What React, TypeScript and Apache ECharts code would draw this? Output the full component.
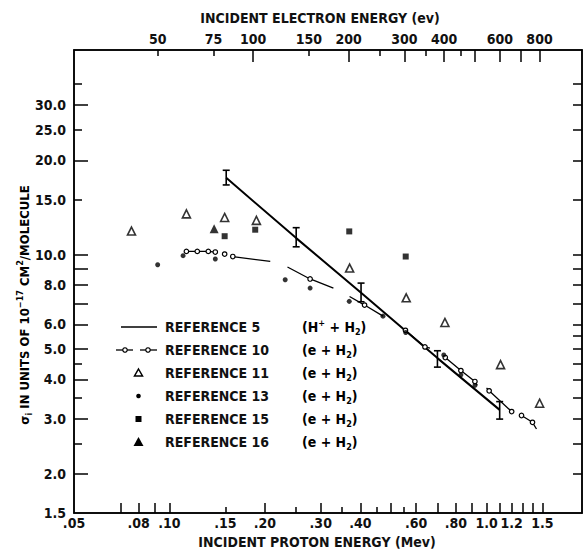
import React, { useEffect, useRef } from "react";
import * as echarts from "echarts";

// proton energy (MeV) -> electron energy of same velocity (eV)
const K = 544.6;

const xTickLong = [0.07, 0.08, 0.09, 0.1, 0.2, 0.3, 0.4, 0.5, 0.6, 0.7, 0.8, 0.9, 1.0, 1.1, 1.2, 1.3, 1.4, 1.5];
const xTickShort = [0.15, 0.25, 0.35, 0.45, 0.55];
const xLabels = [0.05, 0.08, 0.1, 0.15, 0.2, 0.3, 0.4, 0.6, 0.8, 1.0, 1.2, 1.5];
const xLabelTexts = [".05", ".08", ".10", ".15", ".20", ".30", ".40", ".60", ".80", "1.0", "1.2", "1.5"];

const topTickLong = [100, 200, 300, 400, 500, 600, 700, 800];
const topTickShort = [50, 75, 150, 250, 350, 450];
const topLabels = [50, 75, 100, 150, 200, 300, 400, 600, 800];
const topLabelTexts = ["50", "75", "100", "150", "200", "300", "400", "600", "800"];

const yTickLong = [2, 3, 4, 5, 6, 7, 8, 9, 10, 20, 30];
const yTickShort = [2.5, 3.5, 4.5, 15, 25, 35];
const yTickRight = [2, 2.5, 3, 3.5, 4, 4.5, 5, 5.5, 6, 7, 8, 9, 10, 15, 20, 25, 30, 35];
const yLabels = [1.5, 2, 3, 4, 5, 6, 8, 10, 15, 20, 25, 30];
const yLabelTexts = ["1.5", "2.0", "3.0", "4.0", "5.0", "6.0", "8.0", "10.0", "15.0", "20.0", "25.0", "30.0"];

// Reference 5 (H+ + H2): line and error bars [E, low, high]
const ref5 = [[0.151, 17.6], [0.251, 11.3], [0.402, 7.57], [0.70, 4.68], [1.10, 3.2]];
const ref5Err = [[0.151, 16.7, 18.6], [0.251, 10.6, 12.2], [0.402, 7.08, 8.12], [0.70, 4.38, 4.94], [1.10, 2.99, 3.4]];

// Reference 10: segments of [E, sigma, circle?]
const ref10Segments = [
  [[0.1131, 10.25, 1], [0.1224, 10.25, 1], [0.1326, 10.25, 1], [0.1395, 10.2, 1]],
  [[0.1493, 10.05, 1]],
  [[0.1584, 9.87, 1], [0.2079, 9.52, 0]],
  [[0.2356, 9.14, 0], [0.2777, 8.37, 1], [0.3289, 7.83, 0]],
  [[0.3698, 7.36, 0], [0.4124, 6.91, 1], [0.4715, 6.37, 0]],
  [[0.555, 5.74, 1], [0.6394, 5.08, 1], [0.663, 5.04, 0]],
  [[0.741, 4.7, 1], [0.83, 4.27, 1], [0.919, 3.94, 1], [0.935, 3.83, 0]],
  [[1.0, 3.76, 0], [1.019, 3.68, 1], [1.2, 3.16, 1]],
  [[1.289, 3.07, 1], [1.396, 2.92, 1], [1.437, 2.78, 0]],
];

const ref11 = [[0.0759, 11.9], [0.1131, 13.5], [0.1493, 13.15], [0.188, 12.87], [0.37, 9.07], [0.558, 7.29], [0.739, 6.08], [1.107, 4.46], [1.47, 3.36]];
const ref13 = [[0.0918, 9.29], [0.1104, 9.93], [0.1395, 9.69], [0.2317, 8.32], [0.2777, 7.83], [0.369, 7.1], [0.4715, 6.37], [0.556, 5.65], [0.733, 4.79], [0.83, 4.14], [0.919, 3.83]];
const ref15 = [[0.1493, 11.46], [0.1864, 12.02], [0.369, 11.87], [0.556, 9.87]];
const ref16 = [[0.1383, 12.1]];

const legendNames = ["REFERENCE 5", "REFERENCE 10", "REFERENCE 11", "REFERENCE 13", "REFERENCE 15", "REFERENCE 16"];
const legendReactions = ["H+", "e", "e", "e", "e", "e"];

const L = (v: number) => Math.log10(v);
const FONT = "'DejaVu Sans Condensed', 'DejaVu Sans', sans-serif";
const INK = "#111";

const fmt = (vals: number[], texts: string[]) => (v: number) => {
  let best = 0;
  let bd = Infinity;
  vals.forEach((t, i) => {
    const d = Math.abs(L(t) - v);
    if (d < bd) { bd = d; best = i; }
  });
  return texts[best];
};

export default function App() {
  const ref = useRef<HTMLDivElement>(null);
  useEffect(() => {
    document.body.style.margin = "0";
    document.documentElement.style.overflow = "hidden";
    document.body.style.overflow = "hidden";
    if (!ref.current) return;
    const chart = echarts.init(ref.current, undefined, { renderer: "svg" });

    const lineStyle = { color: "#000", width: 1.5 };
    const labelBase = { fontFamily: FONT, fontSize: 14, fontWeight: "bold" as const, color: INK };

    const xMin = L(0.05), xMax = L(2.0);
    const tMin = L(0.05 * K), tMax = L(2.0 * K);
    const yMin = L(1.5), yMax = L(45);

    const xAxis: any[] = [
      {
        type: "value", position: "bottom", min: xMin, max: xMax,
        axisLine: { show: true, onZero: false, lineStyle },
        axisTick: { show: true, inside: true, length: 10, customValues: xTickLong.map(L), lineStyle },
        axisLabel: { show: true, customValues: xLabels.map(L), formatter: fmt(xLabels, xLabelTexts), margin: 3, ...labelBase },
        splitLine: { show: false },
      },
      {
        type: "value", position: "bottom", min: xMin, max: xMax,
        axisLine: { show: false, onZero: false },
        axisTick: { show: true, inside: true, length: 6, customValues: xTickShort.map(L), lineStyle },
        axisLabel: { show: false },
        splitLine: { show: false },
      },
      {
        type: "value", position: "top", min: tMin, max: tMax,
        axisLine: { show: true, onZero: false, lineStyle },
        axisTick: { show: true, inside: true, length: 12, customValues: topTickLong.map(L), lineStyle },
        axisLabel: { show: true, customValues: topLabels.map(L), formatter: fmt(topLabels, topLabelTexts), margin: 4, ...labelBase },
        splitLine: { show: false },
      },
      {
        type: "value", position: "top", min: tMin, max: tMax,
        axisLine: { show: false, onZero: false },
        axisTick: { show: true, inside: true, length: 6, customValues: topTickShort.map(L), lineStyle },
        axisLabel: { show: false },
        splitLine: { show: false },
      },
    ];

    const yAxis: any[] = [
      {
        type: "value", position: "left", min: yMin, max: yMax,
        axisLine: { show: true, onZero: false, lineStyle },
        axisTick: { show: true, inside: true, length: 14, customValues: yTickLong.map(L), lineStyle },
        axisLabel: { show: true, customValues: yLabels.map(L), formatter: fmt(yLabels, yLabelTexts), margin: 8, ...labelBase },
        splitLine: { show: false },
      },
      {
        type: "value", position: "right", offset: 0, min: yMin, max: yMax,
        axisLine: { show: true, onZero: false, lineStyle },
        axisTick: { show: true, inside: true, length: 9, customValues: yTickRight.map(L), lineStyle },
        axisLabel: { show: false },
        splitLine: { show: false },
      },
      {
        type: "value", position: "left", min: yMin, max: yMax,
        axisLine: { show: false, onZero: false },
        axisTick: { show: true, inside: true, length: 8, customValues: yTickShort.map(L), lineStyle },
        axisLabel: { show: false },
        splitLine: { show: false },
      },
    ];

    const ref10Series = ref10Segments.map((seg) => ({
      type: "line",
      name: "REFERENCE 10",
      xAxisIndex: 0, yAxisIndex: 0,
      data: seg.map(([x, y, c]) => ({
        value: [L(x), L(y)],
        symbol: c ? "circle" : "none",
      })),
      symbolSize: 4.5,
      showAllSymbol: true,
      lineStyle: { color: "#000", width: 1.3 },
      itemStyle: { color: "#fff", borderColor: "#000", borderWidth: 1.2 },
      z: 3,
    }));

    const scatter = (name: string, data: number[][], symbol: string, size: number, filled: boolean) => ({
      type: "scatter", name, xAxisIndex: 0, yAxisIndex: 0,
      data: data.map(([x, y]) => [L(x), L(y)]),
      symbol, symbolSize: size,
      itemStyle: filled
        ? { color: "#000" }
        : { color: "#fff", borderColor: "#000", borderWidth: 1.6 },
      z: 4,
    });

    const sub = { fontFamily: FONT, fontSize: 9, fontWeight: "bold" as const, color: INK };
    const richBase = {
      n: { fontFamily: FONT, fontSize: 14, fontWeight: "bold" as const, color: INK, lineHeight: 18 },
      sp: { ...sub, verticalAlign: "top" as const, lineHeight: 10 },
      sb: { ...sub, verticalAlign: "bottom" as const, lineHeight: 10 },
    };

    const rows = [327, 350, 373, 396, 419, 442];
    const sx = 138.5;
    const stroke = { stroke: "#000", lineWidth: 1.5 };
    const graphic: any[] = [
      { type: "line", shape: { x1: 121, y1: rows[0], x2: 157, y2: rows[0] }, style: stroke },
      { type: "line", shape: { x1: 116, y1: rows[1], x2: 133, y2: rows[1] }, style: { stroke: "#000", lineWidth: 1.3 } },
      { type: "line", shape: { x1: 140, y1: rows[1], x2: 157, y2: rows[1] }, style: { stroke: "#000", lineWidth: 1.3 } },
      { type: "circle", shape: { cx: 125, cy: rows[1], r: 2.2 }, style: { fill: "#fff", stroke: "#000", lineWidth: 1.2 } },
      { type: "circle", shape: { cx: 148, cy: rows[1], r: 2.2 }, style: { fill: "#fff", stroke: "#000", lineWidth: 1.2 } },
      { type: "polygon", shape: { points: [[sx, rows[2] - 4], [sx + 4, rows[2] + 3], [sx - 4, rows[2] + 3]] }, style: { fill: "#fff", stroke: "#000", lineWidth: 1.5 } },
      { type: "circle", shape: { cx: sx, cy: rows[3], r: 2.3 }, style: { fill: "#000" } },
      { type: "rect", shape: { x: sx - 3, y: rows[4] - 3, width: 6, height: 6 }, style: { fill: "#000" } },
      { type: "polygon", shape: { points: [[sx, rows[5] - 5], [sx + 5, rows[5] + 4], [sx - 5, rows[5] + 4]] }, style: { fill: "#000" } },
    ];
    legendNames.forEach((nm, i) => {
      graphic.push({
        type: "text", x: 165, y: rows[i],
        style: { text: nm, fontFamily: FONT, fontSize: 14, fontWeight: "bold", fill: INK, align: "left", verticalAlign: "middle" },
      });
      const txt = legendReactions[i] === "H+"
        ? "{n|(H}{sp|+}{n| + H}{sb|2}{n|)}"
        : "{n|(e + H}{sb|2}{n|)}";
      graphic.push({
        type: "text", x: 302, y: rows[i],
        style: { text: txt, rich: richBase, align: "left", verticalAlign: "middle" },
      });
    });
    graphic.push({
      type: "text", x: 320, y: 18,
      style: { text: "INCIDENT ELECTRON ENERGY (ev)", fontFamily: FONT, fontSize: 14, fontWeight: "bold", fill: INK, align: "center", verticalAlign: "middle" },
    });
    graphic.push({
      type: "text", x: 317, y: 542,
      style: { text: "INCIDENT PROTON ENERGY (Mev)", fontFamily: FONT, fontSize: 14, fontWeight: "bold", fill: INK, align: "center", verticalAlign: "middle" },
    });
    graphic.push({
      type: "text", x: 24, y: 305, rotation: Math.PI / 2,
      style: {
        text: "{n|σ}{sb|i}{n| IN UNITS OF 10}{sp|−17}{n| CM}{sp|2}{n|/MOLECULE}",
        rich: {
          n: { ...richBase.n, fontSize: 13 },
          sp: richBase.sp,
          sb: richBase.sb,
        },
        align: "center", verticalAlign: "middle",
      },
    });

    chart.setOption({
      animation: false,
      backgroundColor: "#fff",
      grid: {
        left: 74, top: 50, width: 508, height: 463, containLabel: false,
        show: true, borderColor: "#000", borderWidth: 1.5, backgroundColor: "transparent",
      },
      xAxis,
      yAxis,
      series: [
        {
          type: "line", name: "REFERENCE 5", xAxisIndex: 0, yAxisIndex: 0,
          data: ref5.map(([x, y]) => [L(x), L(y)]),
          symbol: "none", lineStyle: { color: "#000", width: 2 }, z: 2,
        },
        {
          type: "custom", name: "REFERENCE 5 error", xAxisIndex: 0, yAxisIndex: 0,
          data: ref5Err.map(([x, lo, hi]) => [L(x), L(lo), L(hi)]),
          encode: { x: 0, y: [1, 2] },
          renderItem: (_p: any, api: any) => {
            const x = api.value(0);
            const a = api.coord([x, api.value(2)]);
            const b = api.coord([x, api.value(1)]);
            const w = 3.5;
            const st = { stroke: "#000", lineWidth: 1.6 };
            return {
              type: "group",
              children: [
                { type: "line", shape: { x1: a[0], y1: a[1], x2: b[0], y2: b[1] }, style: st },
                { type: "line", shape: { x1: a[0] - w, y1: a[1], x2: a[0] + w, y2: a[1] }, style: st },
                { type: "line", shape: { x1: b[0] - w, y1: b[1], x2: b[0] + w, y2: b[1] }, style: st },
              ],
            };
          },
          z: 2,
        },
        ...ref10Series,
        scatter("REFERENCE 11", ref11, "triangle", 8, false),
        scatter("REFERENCE 13", ref13, "circle", 5, true),
        scatter("REFERENCE 15", ref15, "rect", 6, true),
        scatter("REFERENCE 16", ref16, "triangle", 9, true),
      ],
      graphic,
    });
    return () => chart.dispose();
  }, []);
  return <div ref={ref} style={{ width: 584, height: 550 }} />;
}
